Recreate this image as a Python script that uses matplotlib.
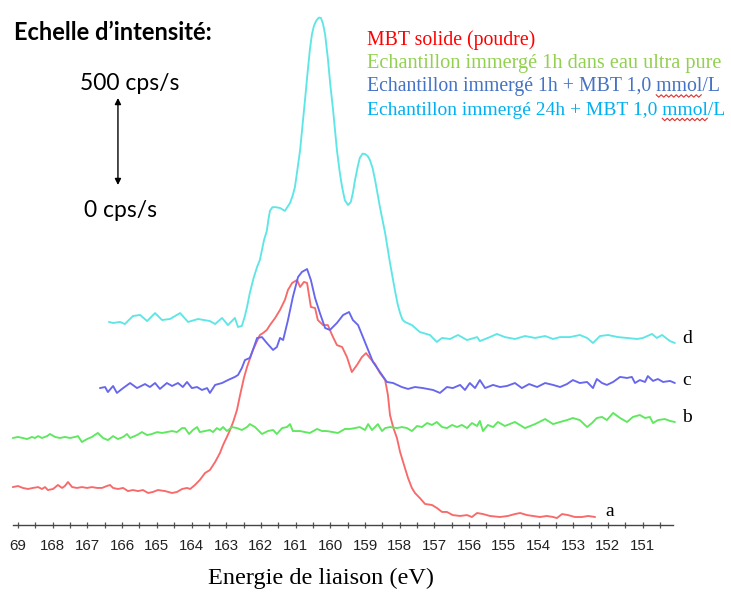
import matplotlib
matplotlib.use("Agg")
import matplotlib.pyplot as plt
from matplotlib.ticker import FixedLocator
from matplotlib.lines import Line2D

# ---------------- data (binding energy in eV, intensity in cps/s, stacked) -------------
# a : MBT solide (poudre)
a_energy = [169.15, 169.00, 168.86, 168.71, 168.57, 168.42, 168.31, 168.22, 168.14, 167.99,
            167.85, 167.73, 167.65, 167.56, 167.44, 167.30, 167.16, 167.01, 166.87, 166.72,
            166.58, 166.44, 166.35, 166.26, 166.12, 165.97, 165.83, 165.69, 165.54, 165.40,
            165.25, 165.11, 164.97, 164.76, 164.56, 164.42, 164.27, 164.13, 164.04, 163.90,
            163.76, 163.61, 163.47, 163.32, 163.18, 163.09, 162.98, 162.89, 162.80, 162.69,
            162.60, 162.49, 162.40, 162.23, 162.03, 161.94, 161.83, 161.74, 161.59, 161.45,
            161.31, 161.22, 161.10, 160.96, 160.87, 160.76, 160.67, 160.56, 160.44, 160.36,
            160.21, 160.07, 159.95, 159.81, 159.66, 159.52, 159.38, 159.23, 159.09, 158.97,
            158.86, 158.71, 158.57, 158.42, 158.34, 158.28, 158.19, 158.08, 157.99, 157.85,
            157.76, 157.65, 157.56, 157.42, 157.27, 157.07, 156.93, 156.78, 156.64, 156.47,
            156.26, 156.06, 155.92, 155.77, 155.60, 155.40, 155.11, 154.88, 154.68, 154.53,
            154.33, 154.16, 153.96, 153.76, 153.58, 153.47, 153.32, 153.15, 152.95, 152.75,
            152.57, 152.37]
a_counts = [218, 224, 213, 207, 213, 218, 207, 218, 201, 207,
            230, 213, 224, 247, 218, 213, 218, 213, 218, 213,
            213, 224, 230, 213, 207, 213, 195, 201, 195, 201,
            184, 190, 201, 195, 184, 190, 207, 213, 207, 230,
            259, 299, 316, 362, 414, 460, 506, 546, 592, 661,
            747, 845, 908, 1006, 1092, 1103, 1121, 1149, 1190, 1236,
            1293, 1351, 1391, 1408, 1368, 1397, 1391, 1253, 1247, 1178,
            1149, 1149, 1092, 1034, 1023, 965, 879, 920, 965, 988,
            960, 925, 874, 833, 747, 632, 563, 500, 420, 328,
            270, 213, 184, 155, 121, 115, 98, 75, 75, 57,
            52, 57, 46, 69, 63, 52, 46, 52, 63, 69,
            57, 52, 46, 52, 46, 40, 63, 57, 46, 46,
            52, 46]

# b : Echantillon immergé 1h dans eau ultra pure
b_energy = [169.15, 169.00, 168.86, 168.74, 168.60, 168.51, 168.42, 168.31, 168.16, 168.08,
            167.93, 167.79, 167.65, 167.50, 167.36, 167.27, 167.16, 167.01, 166.87, 166.70,
            166.55, 166.41, 166.26, 166.12, 165.97, 165.86, 165.77, 165.57, 165.43, 165.28,
            165.14, 164.99, 164.85, 164.71, 164.56, 164.42, 164.27, 164.19, 164.07, 163.96,
            163.84, 163.76, 163.61, 163.47, 163.38, 163.27, 163.18, 163.09, 162.98, 162.83,
            162.69, 162.55, 162.40, 162.32, 162.17, 161.97, 161.80, 161.65, 161.54, 161.39,
            161.25, 161.16, 161.08, 160.87, 160.73, 160.59, 160.38, 160.24, 160.10, 159.92,
            159.78, 159.58, 159.43, 159.29, 159.15, 159.00, 158.91, 158.80, 158.71, 158.63,
            158.51, 158.42, 158.28, 158.08, 157.94, 157.79, 157.65, 157.50, 157.36, 157.21,
            157.07, 156.93, 156.78, 156.64, 156.49, 156.35, 156.21, 156.06, 155.92, 155.77,
            155.69, 155.60, 155.46, 155.31, 155.17, 154.97, 154.68, 154.39, 154.10, 153.81,
            153.58, 153.38, 153.18, 153.01, 152.81, 152.60, 152.46, 152.32, 152.17, 152.03,
            151.85, 151.65, 151.45, 151.28, 151.08, 150.93, 150.79, 150.70, 150.56, 150.36,
            150.21, 150.07]
b_counts = [500, 506, 500, 494, 506, 500, 511, 500, 511, 523,
            506, 500, 506, 500, 506, 511, 477, 494, 506, 529,
            500, 488, 511, 494, 506, 523, 500, 517, 534, 517,
            523, 534, 529, 534, 540, 534, 557, 557, 523, 546,
            563, 534, 540, 546, 534, 557, 546, 563, 540, 563,
            557, 546, 563, 580, 563, 523, 540, 546, 523, 557,
            563, 580, 540, 540, 534, 529, 552, 540, 540, 534,
            529, 552, 552, 557, 563, 546, 580, 546, 563, 580,
            540, 557, 563, 557, 563, 557, 540, 569, 563, 586,
            575, 592, 563, 557, 575, 563, 575, 557, 586, 569,
            598, 540, 575, 563, 592, 569, 592, 557, 580, 609,
            580, 592, 603, 615, 603, 563, 586, 615, 621, 603,
            644, 615, 592, 621, 632, 615, 621, 586, 603, 609,
            598, 592]

# c : Echantillon immergé 1h + MBT 1,0 mmol/L
c_energy = [166.64, 166.49, 166.41, 166.26, 166.15, 165.97, 165.77, 165.57, 165.34, 165.20,
            165.05, 164.91, 164.71, 164.56, 164.39, 164.25, 164.13, 163.99, 163.84, 163.70,
            163.55, 163.47, 163.32, 163.12, 162.95, 162.75, 162.66, 162.55, 162.46, 162.32,
            162.23, 162.11, 161.97, 161.83, 161.65, 161.54, 161.45, 161.36, 161.22, 161.08,
            160.93, 160.82, 160.67, 160.56, 160.44, 160.30, 160.15, 160.01, 159.81, 159.63,
            159.46, 159.35, 159.20, 159.06, 158.91, 158.77, 158.57, 158.37, 158.19, 157.94,
            157.76, 157.56, 157.33, 157.04, 156.84, 156.64, 156.47, 156.26, 156.12, 155.98,
            155.83, 155.69, 155.54, 155.31, 155.11, 154.91, 154.68, 154.48, 154.27, 154.04,
            153.81, 153.58, 153.38, 153.18, 153.01, 152.81, 152.60, 152.43, 152.32, 152.17,
            152.03, 151.85, 151.65, 151.45, 151.31, 151.22, 151.08, 150.93, 150.85, 150.70,
            150.56, 150.41, 150.21, 150.07]
c_counts = [787, 793, 764, 799, 759, 787, 816, 787, 810, 793,
            816, 782, 816, 799, 816, 793, 822, 787, 793, 776,
            787, 759, 805, 816, 833, 851, 862, 902, 948, 960,
            1006, 1075, 1080, 1046, 1006, 1023, 1075, 1063, 1178, 1310,
            1425, 1454, 1471, 1408, 1305, 1218, 1132, 1121, 1161, 1207,
            1224, 1178, 1149, 1080, 1006, 937, 879, 822, 816, 793,
            782, 793, 787, 776, 759, 793, 787, 805, 776, 816,
            787, 833, 787, 805, 793, 799, 816, 787, 810, 793,
            816, 805, 793, 810, 833, 816, 822, 787, 839, 816,
            805, 822, 851, 845, 851, 816, 833, 822, 856, 828,
            839, 822, 828, 816]

# d : Echantillon immergé 24h + MBT 1,0 mmol/L
d_energy = [166.38, 166.26, 166.06, 165.92, 165.69, 165.48, 165.28, 165.05, 164.85, 164.62,
            164.33, 164.10, 163.81, 163.47, 163.32, 163.12, 162.95, 162.75, 162.66, 162.55,
            162.47, 162.40, 162.32, 162.21, 162.11, 162.03, 161.91, 161.83, 161.78, 161.74,
            161.67, 161.59, 161.45, 161.31, 161.16, 161.09, 161.02, 160.95, 160.87, 160.80,
            160.73, 160.66, 160.59, 160.53, 160.47, 160.40, 160.33, 160.27, 160.21, 160.15,
            160.07, 160.00, 159.92, 159.81, 159.73, 159.66, 159.58, 159.49, 159.41, 159.35,
            159.29, 159.21, 159.15, 159.07, 159.00, 158.92, 158.86, 158.78, 158.71, 158.57,
            158.42, 158.28, 158.14, 158.06, 157.99, 157.92, 157.85, 157.65, 157.42, 157.13,
            156.93, 156.78, 156.55, 156.32, 156.06, 155.77, 155.69, 155.40, 155.20, 154.97,
            154.68, 154.39, 154.10, 153.81, 153.58, 153.38, 153.09, 152.81, 152.60, 152.43,
            152.23, 152.00, 151.71, 151.45, 151.16, 150.99, 150.73, 150.59, 150.44, 150.21,
            150.07]
d_counts = [1167, 1161, 1167, 1155, 1201, 1207, 1172, 1218, 1178, 1184,
            1218, 1167, 1184, 1172, 1155, 1190, 1149, 1190, 1138, 1144,
            1195, 1253, 1333, 1420, 1483, 1523, 1638, 1690, 1760, 1805,
            1826, 1827, 1822, 1805, 1851, 1890, 1942, 2040, 2155, 2300,
            2442, 2590, 2730, 2820, 2870, 2900, 2916, 2914, 2880, 2820,
            2680, 2530, 2385, 2155, 2030, 1942, 1866, 1839, 1856, 1908,
            1980, 2060, 2110, 2134, 2132, 2120, 2098, 2050, 1983, 1827,
            1678, 1506, 1351, 1270, 1218, 1180, 1167, 1149, 1109, 1092,
            1052, 1075, 1069, 1092, 1063, 1080, 1057, 1080, 1098, 1080,
            1069, 1086, 1075, 1086, 1069, 1080, 1080, 1092, 1075, 1046,
            1086, 1092, 1080, 1075, 1069, 1075, 1098, 1075, 1092, 1057,
            1046]

tick_values = list(range(169, 150, -1))
tick_labels = ["69"] + [str(v) for v in range(168, 150, -1)]

legend_texts = ["MBT solide (poudre)",
                "Echantillon immergé 1h dans eau ultra pure",
                "Echantillon immergé 1h + MBT 1,0 mmol/L",
                "Echantillon immergé 24h + MBT 1,0 mmol/L"]
legend_colors = ["#FF0000", "#92D050", "#4472C4", "#00B0F0"]
legend_sizes = [14.2, 14.6, 14.2, 14.0]
curve_colors = ["#F86A6A", "#5EE85E", "#6666EE", "#5EE6E6"]
scale_step = 500      # cps/s shown by the arrow
scale_base = 1954

# ---------------- figure ----------------
W, H = 731, 594
fig = plt.figure(figsize=(W / 100, H / 100), dpi=100)
ax = fig.add_axes([0, 0, 1, 1])
ax.set_xlim(169.519, 148.453)
ax.set_ylim(-396.5, 3017.2)

for e, c, col in zip([a_energy, b_energy, c_energy, d_energy],
                     [a_counts, b_counts, c_counts, d_counts], curve_colors):
    ax.plot(e, c, color=col, lw=1.35, solid_joinstyle="round", solid_capstyle="round")

# axis
for s in ["top", "left", "right"]:
    ax.spines[s].set_visible(False)
ax.spines["bottom"].set_position(("data", 0))
ax.spines["bottom"].set_bounds(169.15, 150.12)
ax.spines["bottom"].set_color("#444444")
ax.spines["bottom"].set_linewidth(1.0)
ax.yaxis.set_visible(False)
ax.xaxis.set_major_locator(FixedLocator(tick_values))
ax.xaxis.set_minor_locator(FixedLocator([v + 0.5 for v in range(168, 150, -1)] + [150.5]))
ax.set_xticklabels(tick_labels, fontfamily="Liberation Sans", fontsize=10.8, color="#222222")
ax.tick_params(axis="x", which="both", direction="inout", length=4, width=0.9,
               color="#555555", pad=8)
ax.patch.set_visible(False)

# curve labels
for lab, e, y in [("a", 152.06, 75), ("b", 149.85, 615), ("c", 149.85, 828), ("d", 149.85, 1069)]:
    ax.text(e, y, lab, fontfamily="Liberation Serif", fontsize=14, color="black",
            ha="left", va="center")

# x label
fig.text(321 / W, 1 - 578 / H, "Energie de liaison (eV)", fontfamily="Liberation Serif",
         fontsize=17.5, ha="center", va="center", color="black")

# intensity scale
fig.text(14 / W, 1 - 32 / H, "Echelle d\u2019intensité:", fontfamily="Lato",
         fontweight="bold", fontsize=17, ha="left", va="center", color="black")
fig.text(130 / W, 1 - 83 / H, "500 cps/s", fontfamily="Lato", fontsize=16.5,
         ha="center", va="center", color="black")
fig.text(120 / W, 1 - 210 / H, "0 cps/s", fontfamily="Lato", fontsize=16.5,
         ha="center", va="center", color="black")
ax.annotate("", xy=(166.12, scale_base + scale_step), xytext=(166.12, scale_base),
            arrowprops=dict(arrowstyle="<|-|>", color="black", lw=1.0,
                            shrinkA=0, shrinkB=0, mutation_scale=9))

# legend texts
renderer = fig.canvas.get_renderer()
for i, (t, col, fs) in enumerate(zip(legend_texts, legend_colors, legend_sizes)):
    ytxt = 1 - (40 + 23.5 * i) / H
    fig.text(367 / W, ytxt, t, fontfamily="Liberation Serif",
             fontsize=fs, color=col, ha="left", va="center")
    if "mmol" in t:
        # spell-check style wavy underline under "mmol"
        pre = t[:t.index("mmol")]
        tmp1 = fig.text(0, 0, pre, fontfamily="Liberation Serif", fontsize=fs)
        tmp2 = fig.text(0, 0, pre + "mmol", fontfamily="Liberation Serif", fontsize=fs)
        w1 = tmp1.get_window_extent(renderer).width
        w2 = tmp2.get_window_extent(renderer).width
        tmp1.remove()
        tmp2.remove()
        x0 = 367 + w1
        x1 = 367 + w2
        yb = ytxt * H - 9
        xs, ys = [], []
        k = 0
        x = x0
        while x <= x1:
            xs.append(x / W)
            ys.append((yb + (1.2 if k % 2 == 0 else -1.2)) / H)
            x += 2.5
            k += 1
        fig.add_artist(Line2D(xs, ys, color="#E03030", lw=0.8, transform=fig.transFigure))

fig.savefig("out.png", dpi=100)
